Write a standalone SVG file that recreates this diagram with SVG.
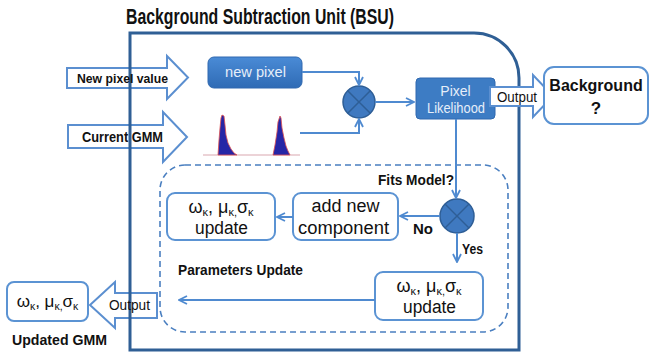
<svg xmlns="http://www.w3.org/2000/svg" width="650" height="353" viewBox="0 0 650 353">
<defs>
<style>
.b{font-family:"Liberation Sans",Arial,sans-serif;font-weight:bold;fill:#111}
.r{font-family:"Liberation Sans",Arial,sans-serif;fill:#111}
.w{font-family:"Liberation Sans",Arial,sans-serif;fill:#e6eef9}
.blk{fill:#fff;stroke:#5b8fd0;stroke-width:2}
.box{fill:#fff;stroke:#5b93d3;stroke-width:2}
.con{fill:none;stroke:#4f8ad0;stroke-width:2}
.mul{fill:#3f79c0;stroke:#2e5e96;stroke-width:1.5}
.x{stroke:#2e5e96;stroke-width:1.5}
</style>
<linearGradient id="gb" x1="0" y1="0" x2="0" y2="1">
<stop offset="0" stop-color="#4a8bd6"/>
<stop offset="1" stop-color="#2f6bb5"/>
</linearGradient>
<marker id="arr" viewBox="0 0 10 10" refX="9" refY="5" markerWidth="10" markerHeight="10" markerUnits="userSpaceOnUse" orient="auto">
<path d="M1,1 L9,5 L1,9" fill="none" stroke="#4f8ad0" stroke-width="1.8"/>
</marker>
</defs>
<rect width="650" height="353" fill="#fff"/>

<text id="title" class="b" x="126" y="24" font-size="22" textLength="268" lengthAdjust="spacingAndGlyphs">Background Subtraction Unit (BSU)</text>

<g id="arrow-new-pixel-value">
<path class="blk" d="M67,68 H167 V56 L188,77.5 L167,99 V88 H67 Z"/>
</g>
<g id="arrow-current-gmm">
<path class="blk" d="M68,125 H163 V112 L187,137 L163,162 V148 H68 Z"/>
</g>
<g id="arrow-output-left">
<path class="blk" d="M157,293 H115 V282 L90,305 L115,328 V318 H157 Z"/>
</g>

<g id="bsu-frame">
<path d="M130,350 V33 H474 A45,45 0 0 1 519,78 V350 Z" fill="none" stroke="#2f5f95" stroke-width="3"/>
</g>

<text class="b" x="77" y="82.5" font-size="13.5" textLength="91" lengthAdjust="spacingAndGlyphs">New pixel value</text>
<text class="b" x="82" y="141.5" font-size="14" textLength="81" lengthAdjust="spacingAndGlyphs">Current GMM</text>
<text class="r" x="109" y="310" font-size="14" textLength="41" lengthAdjust="spacingAndGlyphs">Output</text>

<g id="node-params-update">
<rect x="160" y="165" width="348" height="167" rx="25" fill="none" stroke="#4a7fc0" stroke-width="1.6" stroke-dasharray="6,4"/>
</g>

<g id="node-new-pixel">
<rect x="208" y="57" width="94" height="31" rx="6" fill="url(#gb)" stroke="#3069b0" stroke-width="1"/>
<text class="w" x="225" y="77" font-size="15" textLength="61" lengthAdjust="spacingAndGlyphs">new pixel</text>
</g>

<g id="node-gmm-plot">
<line x1="203" y1="155" x2="300" y2="155" stroke="#d9a8b0" stroke-width="1.2"/>
<polygon points="218,155 219,140 220,128 221,118 222,115 224,116 225,125 226,135 228,143 231,149 234,153 237,155" fill="#2626a6" stroke="#e05050" stroke-width="0.8"/>
<polygon points="273,155 275,145 277,132 278,122 280,116 281,118 282,128 284,138 286,146 288,151 290,155" fill="#2626a6" stroke="#e05050" stroke-width="0.8"/>
</g>

<g id="node-mult1">
<circle class="mul" cx="359" cy="102" r="16"/>
<line class="x" x1="347.7" y1="90.7" x2="370.3" y2="113.3"/>
<line class="x" x1="370.3" y1="90.7" x2="347.7" y2="113.3"/>
</g>

<g id="node-pixel-likelihood">
<rect x="416" y="78" width="79" height="41" rx="4" fill="#3d7cc4" stroke="#3069b0" stroke-width="1"/>
<text class="w" x="455.5" y="96" font-size="14" text-anchor="middle">Pixel</text>
<text class="w" x="427" y="113" font-size="14" textLength="58" lengthAdjust="spacingAndGlyphs">Likelihood</text>
</g>

<g id="arrow-output-bg">
<path class="blk" d="M490,87 H533 V75 L553,96 L533,117 V106 H490 Z"/>
<text class="r" x="497" y="101.5" font-size="14" textLength="40" lengthAdjust="spacingAndGlyphs">Output</text>
</g>

<g id="node-background">
<rect class="box" x="544" y="67" width="104" height="57" rx="10"/>
<text class="b" x="596" y="91" font-size="16" text-anchor="middle">Background</text>
<text class="b" x="596" y="114" font-size="17" text-anchor="middle">?</text>
</g>

<text id="label-fits" class="b" x="378" y="185" font-size="15" textLength="76" lengthAdjust="spacingAndGlyphs">Fits Model?</text>

<g id="node-mult2">
<circle class="mul" cx="457" cy="216" r="17"/>
<line class="x" x1="445" y1="204" x2="469" y2="228"/>
<line class="x" x1="469" y1="204" x2="445" y2="228"/>
</g>

<text class="b" x="413" y="233.5" font-size="14.5" textLength="20" lengthAdjust="spacingAndGlyphs">No</text>
<text class="b" x="462" y="253.5" font-size="14.5" textLength="21" lengthAdjust="spacingAndGlyphs">Yes</text>

<g id="node-add-new">
<rect class="box" x="293" y="193" width="105" height="47" rx="8"/>
<text class="r" x="345.5" y="212" font-size="18" text-anchor="middle">add new</text>
<text class="r" x="298" y="234" font-size="18" textLength="91" lengthAdjust="spacingAndGlyphs">component</text>
</g>

<g id="node-update-left">
<rect class="box" x="167" y="193" width="108" height="47" rx="8"/>
<text class="r" x="221" y="213" font-size="18" text-anchor="middle">ω<tspan font-size="11" dy="3">κ</tspan><tspan dy="-3">, μ</tspan><tspan font-size="11" dy="3">κ,</tspan><tspan dy="-3">σ</tspan><tspan font-size="11" dy="3">κ</tspan></text>
<text class="r" x="195" y="234" font-size="18" textLength="53" lengthAdjust="spacingAndGlyphs">update</text>
</g>

<text class="b" x="178" y="274.5" font-size="15" textLength="125" lengthAdjust="spacingAndGlyphs">Parameters Update</text>

<g id="node-update-right">
<rect class="box" x="375" y="272" width="108" height="48" rx="8"/>
<text class="r" x="429" y="292" font-size="18" text-anchor="middle">ω<tspan font-size="11" dy="3">κ</tspan><tspan dy="-3">, μ</tspan><tspan font-size="11" dy="3">κ,</tspan><tspan dy="-3">σ</tspan><tspan font-size="11" dy="3">κ</tspan></text>
<text class="r" x="403" y="313" font-size="18" textLength="53" lengthAdjust="spacingAndGlyphs">update</text>
</g>

<g id="node-updated-gmm">
<rect class="box" x="7" y="282" width="81" height="39" rx="7"/>
<text class="r" x="47.5" y="307" font-size="17" text-anchor="middle">ω<tspan font-size="10.5" dy="3">κ</tspan><tspan dy="-3">, μ</tspan><tspan font-size="10.5" dy="3">κ,</tspan><tspan dy="-3">σ</tspan><tspan font-size="10.5" dy="3">κ</tspan></text>
<text class="b" x="12" y="345" font-size="15.5" textLength="95" lengthAdjust="spacingAndGlyphs">Updated GMM</text>
</g>

<g id="connectors">
<path class="con" d="M302,72 H359 V85" marker-end="url(#arr)"/>
<path class="con" d="M300,133 H359 V119" marker-end="url(#arr)"/>
<path class="con" d="M375,102 H414" marker-end="url(#arr)"/>
<path class="con" d="M456,119 V198" marker-end="url(#arr)"/>
<path class="con" d="M440,216 H400" marker-end="url(#arr)"/>
<path class="con" d="M293,217 H277" marker-end="url(#arr)"/>
<path class="con" d="M457,233 V262" marker-end="url(#arr)"/>
<path class="con" d="M375,300 H179" marker-end="url(#arr)"/>
</g>
</svg>
